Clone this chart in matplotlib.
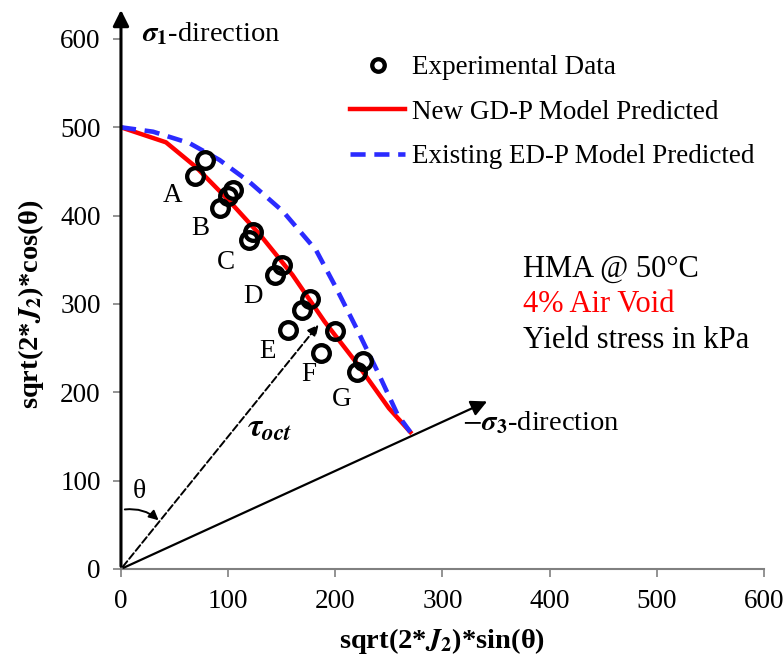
import matplotlib
matplotlib.use("Agg")
import matplotlib.pyplot as plt

plt.rcParams["font.family"] = ["Liberation Serif", "DejaVu Serif"]
plt.rcParams["mathtext.fontset"] = "stix"

# experimental points (x = sqrt(2*J2)*sin(theta), y = sqrt(2*J2)*cos(theta))
exp_x = [78, 69, 105, 100, 92, 123, 119, 150, 144, 176, 169, 156, 200, 187, 226, 220]
exp_y = [463, 445, 429, 422, 409, 382, 372, 344, 333, 306, 293, 271, 269, 244, 235, 223]

# new GD-P model
gdp_x = [0, 42, 70, 100, 130, 160, 190, 220, 250, 270]
gdp_y = [500, 483, 455, 418, 378, 333, 280, 233, 182, 155]

# existing ED-P model
edp_x = [0, 30, 64, 92, 120, 151, 182, 200, 220, 240, 258, 270]
edp_y = [500, 495, 482, 463, 438, 405, 361, 320, 272, 222, 175, 155]

point_labels = ["A", "B", "C", "D", "E", "F", "G"]
label_x = [48, 74, 98, 123, 137, 175, 206]
label_y = [423, 386, 347, 309, 246, 220, 192]

fig, ax = plt.subplots(figsize=(7.83, 6.64), dpi=100)
fig.subplots_adjust(left=0.1545, right=0.9757, bottom=0.1431, top=0.9413)

ax.plot(exp_x, exp_y, "o", ms=12, mfc="none", mec="black", mew=3.1,
        label="Experimental Data", zorder=4)
ax.plot(gdp_x, gdp_y, color="#ff0000", lw=3.2, label="New GD-P Model Predicted", zorder=3)
ax.plot(edp_x, edp_y, color="#2b2bff", lw=3.3, ls=(0, (3.3, 1.9)),
        label="Existing ED-P Model Predicted", zorder=3)

for t, lx, ly in zip(point_labels, label_x, label_y):
    ax.text(lx, ly, t, fontsize=19.5, ha="center", va="center")

# sigma axes
ax.annotate("", xy=(0, 636), xytext=(0, 0), annotation_clip=False,
            arrowprops=dict(arrowstyle="-|>", color="black", lw=2.2, mutation_scale=24))
ax.annotate("", xy=(344, 191), xytext=(0, 0),
            arrowprops=dict(arrowstyle="-|>", color="black", lw=1.6, mutation_scale=24))
ax.annotate("", xy=(186, 279), xytext=(0, 0),
            arrowprops=dict(arrowstyle="-|>", color="black", lw=1.4, ls="--", mutation_scale=16))
ax.annotate("", xy=(37, 53), xytext=(1, 67),
            arrowprops=dict(arrowstyle="-|>", color="black", lw=1.4, mutation_scale=14,
                            connectionstyle="arc3,rad=-0.25"))

ax.text(20, 605, r"$\boldsymbol{\sigma}_\mathbf{1}$-direction", fontsize=20.5, va="center")
ax.text(318, 165, r"$-\boldsymbol{\sigma}_\mathbf{3}$-direction", fontsize=20.5, va="center")
ax.text(118, 159, r"$\boldsymbol{\tau}_{\boldsymbol{oct}}$", fontsize=24, va="center")
ax.text(11, 88, "θ", fontsize=20, va="center")

ax.text(375, 339, "HMA @ 50°C", fontsize=22, va="center")
ax.text(375, 299, "4% Air Void", fontsize=22, va="center", color="#ff0000")
ax.text(375, 259, "Yield stress in kPa", fontsize=22, va="center")

ax.set_xlim(0, 600)
ax.set_ylim(0, 600)
ax.set_xticks(range(0, 601, 100))
ax.set_yticks(range(0, 601, 100))
ax.tick_params(labelsize=19.5, color="#808080", length=5.5, width=1.2, pad=9)
for s in ["top", "right"]:
    ax.spines[s].set_visible(False)
for s in ["left", "bottom"]:
    ax.spines[s].set_color("#808080")
    ax.spines[s].set_linewidth(1.5)

ax.set_xlabel(r"sqrt(2*$\boldsymbol{J}_\mathbf{2}$)*sin(θ)", fontsize=20.5, fontweight="bold",
              va="center")
ax.set_ylabel(r"sqrt(2*$\boldsymbol{J}_\mathbf{2}$)*cos(θ)", fontsize=20.5, fontweight="bold",
              va="center")
ax.xaxis.set_label_coords(0.5, -0.136)
ax.yaxis.set_label_coords(-0.14, 0.5)

ax.legend(loc="upper left", bbox_to_anchor=(0.356, 0.969), frameon=False, fontsize=19.5,
          borderpad=0, borderaxespad=0, handlelength=2.05, handletextpad=0.26,
          labelspacing=0.72, markerscale=0.75)

fig.savefig("out.png", dpi=100)
